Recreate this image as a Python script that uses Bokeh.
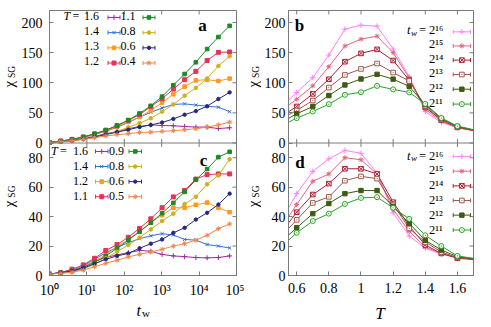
import math
from bokeh.plotting import figure
from bokeh.models import Range1d, FixedTicker, CustomJSTickFormatter, Label, Span
from bokeh.layouts import row, column
from bokeh.embed import file_html
from bokeh.resources import INLINE

# ---------------- data ----------------
tw = [1, 2, 4, 8, 16, 32, 64, 128, 256, 512, 1024, 2048, 4096, 8192, 16384, 32768, 65536]

a_labels = ["1.6", "1.4", "1.3", "1.2", "1.1", "0.8", "0.6", "0.4"]
a_T16 = [1, 2.7, 4.5, 7, 11, 15.4, 19, 23.7, 27.5, 30, 29, 28.6, 27.5, 26.4, 26.4, 24, 25.3]
a_T14 = [1, 3, 5.5, 9, 14, 19.5, 26, 34, 43, 51, 58, 64, 65, 63, 61, 59.5, 52]
a_T13 = [1, 3, 5.8, 9.5, 14.5, 20, 27, 35, 43, 54, 67, 81, 93.6, 104, 105, 103, 107]
a_T12 = [1, 3.2, 6, 10, 15, 21, 28.5, 37.5, 47, 60.5, 73.5, 89.5, 105, 119, 137, 150.5, 151]
a_T11 = [1.1, 3.3, 6, 10, 15.4, 21.5, 29, 38, 49, 61.7, 77, 96, 114.5, 134, 156, 176, 194.5]
a_T08 = [1, 2.5, 4, 6.5, 10, 14, 19, 26, 33, 41, 52, 64, 78.5, 91.5, 107, 128, 144]
a_T06 = [1, 2.5, 4, 6.5, 10, 14, 18, 22, 26.5, 30, 34, 40, 47, 53, 61, 73, 84]
a_T04 = [1, 2.2, 3.8, 6, 8.8, 11.6, 13.8, 15.4, 17.6, 18, 19.3, 20.4, 22, 23.7, 26.4, 30, 34.7]

c_labels = ["1.6", "1.4", "1.2", "1.1", "0.9", "0.8", "0.6", "0.5"]
c_T16 = [1, 1.8, 3.3, 6, 9.5, 12.2, 14, 15.5, 17, 16.5, 14.3, 13.3, 12.8, 12.2, 12, 12.2, 13.3]
c_T14 = [1, 2, 3.5, 6.5, 11, 15.5, 19, 22.3, 25, 27, 28.4, 27.5, 24.5, 24, 21, 20, 18.7]
c_T12 = [1, 1.8, 3, 5.9, 9.5, 14.4, 19.4, 24.5, 30, 36, 41, 46, 46, 48, 49.5, 46, 43]
c_T11 = [1, 2, 4.3, 7.2, 11.7, 17, 21, 26, 32, 38.5, 46, 53.4, 57.7, 65.5, 68.5, 69, 69]
c_T09 = [1, 1.8, 3.2, 5.6, 8.8, 13.3, 18.5, 24, 29.7, 35.8, 42.3, 49.3, 56.8, 65, 72.3, 80.4, 84]
c_T08 = [1, 1.5, 2.5, 4.3, 7.7, 11.7, 16.2, 20.7, 25.7, 31.3, 37, 42, 48.5, 53.5, 62, 68, 79]
c_T06 = [1, 1.8, 3, 5, 8, 11, 13.3, 15, 18.5, 21.6, 24.5, 29, 32.4, 38, 42.6, 48.2, 55.6]
c_T05 = [1, 1.5, 2.3, 3.6, 5.9, 8.3, 10.4, 12.6, 14.4, 16, 17.8, 20, 21.6, 24, 27.3, 31.8, 35]

T = [0.5, 0.6, 0.7, 0.8, 0.9, 1.0, 1.1, 1.2, 1.3, 1.4, 1.5, 1.6, 1.8]
tw_labels = ["2¹⁶", "2¹⁵", "2¹⁴", "2¹³", "2¹²", "2¹¹"]
b_tw16 = [59.5, 83.7, 108.5, 146, 189, 195.6, 194, 156, 110, 52, 34, 25, 15.5]
b_tw15 = [53.3, 72.7, 94.8, 126.7, 161, 172.5, 177.4, 150, 108, 56, 36, 25.5, 15.5]
b_tw14 = [43.4, 60.6, 81.5, 105.8, 135, 148.8, 155.4, 137, 104.5, 59, 38, 26, 16]
b_tw13 = [40, 54, 70.5, 92, 113, 123, 132, 117, 103, 61, 39, 26.5, 16]
b_tw12 = [33.5, 48.5, 60.6, 78.8, 96.4, 106.3, 114, 106, 94, 63.5, 40.5, 27.5, 16]
b_tw11 = [28, 41.3, 52.3, 64.5, 80, 84.3, 94.8, 89, 84, 65, 41.5, 28, 16]

d_tw16 = [36.4, 55.6, 70.7, 79.3, 85, 83, 69.6, 42.6, 26.8, 18.5, 14.4, 12.2, 10]
d_tw15 = [31.8, 48.2, 64, 69, 80, 78.6, 69, 44.8, 30, 19.4, 14.9, 12.2, 10]
d_tw14 = [28.6, 43, 55, 62.4, 72.5, 72.5, 69, 49.8, 33.6, 20.7, 15, 11.7, 10]
d_tw13 = [26.2, 37.8, 49.3, 53.4, 64.4, 67.3, 65.8, 48.2, 32, 22.7, 16, 12.2, 10]
d_tw12 = [22.6, 32.4, 42, 48.9, 55.6, 57.7, 57.7, 47, 35.4, 23.9, 17.3, 12.8, 10]
d_tw11 = [19, 29, 37, 42, 48.6, 52.7, 53.2, 46, 38.5, 27.3, 20, 13.3, 10]

a_ticks = [0, 50, 100, 150, 200]
c_ticks = [0, 20, 40, 60, 80]
x_log_ticks = [1, 10, 100, 1000, 10000, 100000]
T_ticks = [0.6, 0.8, 1.0, 1.2, 1.4, 1.6]

# ---------------- style / geometry ----------------
SERIF = "Liberation Serif"
FRAME = "#7a7a7a"
A_TOP, C_TOP = 220, 90
slot_colors = ["#a0289f", "#2f72d6", "#ff9a1c", "#e6325a", "#1b8a27", "#cdb01e", "#27277f", "#f0874b"]
slot_markers = ["cross", "x", "square", "square", "square", "circle", "circle", "asterisk"]
slot_sizes = [5, 4.5, 3.6, 4, 3.6, 3.6, 3.4, 5]
tw_colors = ["#ff7fff", "#e0687f", "#ac1f35", "#a0564c", "#3d5c12", "#27a327"]
tw_markers = ["cross", "asterisk", "square_x", "square_dot", "square", "circle_dot"]
tw_fill = [True, True, False, False, True, False]
tw_sizes = [5.5, 5, 4.6, 4.6, 4.4, 5]

FL_L, FL_R, FT, FB = 49, 286, 10, 277
FW, FH = 187, 267
YL1_W, YL2_W = 18, 17
LEFT_W = (FL_L - YL1_W) + FW + 8          # ends at x = 244
RIGHT_X0 = YL1_W + LEFT_W + YL2_W          # 261
RIGHT_W = (FL_R - RIGHT_X0) + FW + 10
MAIN_H = FT + FH + 23                      # 300
XLAB_H = 26


def base_fig(x_type, x_range, bl, br, standoff):
    p = figure(width=bl + FW + br, height=MAIN_H, min_border_left=bl, min_border_right=br,
               min_border_top=FT, min_border_bottom=MAIN_H - FT - FH, title=None,
               x_axis_type=x_type, x_range=x_range, y_range=Range1d(0, 2 * C_TOP),
               output_backend="svg", toolbar_location=None)
    p.extra_y_ranges = {"top": Range1d(-A_TOP, A_TOP)}
    p.grid.visible = False
    p.outline_line_color = FRAME
    p.outline_line_width = 1
    for ax in (p.xaxis[0], p.yaxis[0]):
        ax.axis_line_color = FRAME
        ax.major_tick_line_color = FRAME
        ax.major_tick_in = 4
        ax.major_tick_out = 0
        ax.minor_tick_line_color = None
        ax.major_label_text_font = SERIF
        ax.major_label_text_font_size = "14px"
        ax.major_label_text_color = "black"
    p.xaxis.major_label_standoff = 7
    p.yaxis.major_label_standoff = standoff
    ypos = c_ticks + [C_TOP + v * C_TOP / A_TOP for v in a_ticks]
    p.yaxis.ticker = FixedTicker(ticks=ypos)
    p.yaxis.formatter = CustomJSTickFormatter(code="""
        if (tick > 89.999) { return String(Math.round((tick - 90) * 220 / 90)); }
        return String(Math.round(tick));
    """)
    p.add_layout(Span(location=C_TOP, dimension="width", line_color=FRAME, line_width=1))
    return p, ypos


def lab(p, fl, sx, sy, text, size, align="left", baseline="middle", style="normal", angle=0.0):
    p.add_layout(Label(x=sx - fl, y=FB - sy, x_units="screen", y_units="screen", text=text,
                       text_font=SERIF, text_font_size=f"{size}px", text_align=align,
                       text_baseline=baseline, text_font_style=style, angle=angle,
                       text_color="black"))


def sy2y(sy):
    return 2 * C_TOP * (FB - sy) / FH


def sample(p, xconv, x1, x2, sy, color, marker, size, fill=True):
    y = sy2y(sy)
    xa, xb, xm = xconv(x1), xconv(x2), xconv((x1 + x2) / 2)
    p.segment(x0=[xa], y0=[y], x1=[xb], y1=[y], line_color=color, line_width=1)
    p.scatter(x=[xa, xb], y=[y, y], marker="dash", angle=math.pi / 2, size=4, line_color=color)
    p.scatter(x=[xm], y=[y], marker=marker, size=size, line_color=color,
              fill_color=color if fill else "white")


def label_fig(w, h):
    f = figure(width=w, height=h, x_range=Range1d(0, w), y_range=Range1d(0, h), min_border=0,
               title=None, toolbar_location=None, output_backend="svg",
               x_axis_location=None, y_axis_location=None)
    f.outline_line_color = None
    f.grid.visible = False
    return f


def flab(f, h, x0, sx, sy, text, size, align="left", baseline="middle", style="normal", angle=0.0):
    f.add_layout(Label(x=sx - x0, y=h - sy, text=text, text_font=SERIF,
                       text_font_size=f"{size}px", text_align=align, text_baseline=baseline,
                       text_font_style=style, angle=angle, text_color="black"))


# ---------------- left figure (a, c) ----------------
left, ypos = base_fig("log", Range1d(1, 1e5), FL_L - YL1_W, 8, 7)
left.xaxis.ticker = FixedTicker(ticks=x_log_ticks)
left.xaxis.formatter = CustomJSTickFormatter(code="""
    const sup = ['\u2070','\u00b9','\u00b2','\u00b3','\u2074','\u2075','\u2076','\u2077','\u2078','\u2079'];
    return '10' + sup[Math.round(Math.log10(tick))];
""")

a_series = [a_T16, a_T14, a_T13, a_T12, a_T11, a_T08, a_T06, a_T04]
c_series = [c_T16, c_T14, c_T12, c_T11, c_T09, c_T08, c_T06, c_T05]
for i, ys in enumerate(a_series):
    col = slot_colors[i]
    left.line(tw, ys, y_range_name="top", line_color=col, line_width=1)
    left.scatter(tw, ys, y_range_name="top", marker=slot_markers[i], size=slot_sizes[i],
                 line_color=col, fill_color=col)
for i, ys in enumerate(c_series):
    col = slot_colors[i]
    left.line(tw, ys, line_color=col, line_width=1)
    left.scatter(tw, ys, marker=slot_markers[i], size=slot_sizes[i], line_color=col, fill_color=col)

left.scatter(x=[x_log_ticks[-1]] * len(ypos), y=ypos, marker="dash", size=8, line_color=FRAME)
left.scatter(x=x_log_ticks, y=[C_TOP] * len(x_log_ticks), marker="dash", angle=math.pi / 2, size=8, line_color=FRAME)
left.scatter(x=x_log_ticks, y=[2 * C_TOP] * len(x_log_ticks), marker="dash", angle=math.pi / 2, size=8, line_color=FRAME)


def lx(sx):
    return 10 ** (5 * (sx - FL_L) / FW)


rows_a = [17, 32.3, 47.6, 62.9]
for r in range(4):
    lab(left, FL_L, 98.5, rows_a[r], a_labels[r], 12, align="right")
    sample(left, lx, 107.5, 119.5, rows_a[r], slot_colors[r], slot_markers[r], slot_sizes[r])
    lab(left, FL_L, 135, rows_a[r], a_labels[r + 4], 12, align="right")
    sample(left, lx, 142.5, 154.5, rows_a[r], slot_colors[r + 4], slot_markers[r + 4], slot_sizes[r + 4])
lab(left, FL_L, 63, rows_a[0], "T", 12, style="italic")
lab(left, FL_L, 72, rows_a[0], "=", 12)
rows_c = [152, 167.2, 182.4, 197.6]
for r in range(4):
    lab(left, FL_L, 87.5, rows_c[r], c_labels[r], 12, align="right")
    sample(left, lx, 95, 107.5, rows_c[r], slot_colors[r], slot_markers[r], slot_sizes[r])
    lab(left, FL_L, 123.5, rows_c[r], c_labels[r + 4], 12, align="right")
    sample(left, lx, 128.5, 141, rows_c[r], slot_colors[r + 4], slot_markers[r + 4], slot_sizes[r + 4])
lab(left, FL_L, 50.5, rows_c[0], "T", 12, style="italic")
lab(left, FL_L, 59.5, rows_c[0], "=", 12)

lab(left, FL_L, 202, 27, "a", 17, align="center", baseline="alphabetic", style="bold")
lab(left, FL_L, 203, 162, "c", 17, align="center", baseline="alphabetic", style="bold")

# ---------------- right figure (b, d) ----------------
T0, T1 = 0.549, 1.70
right, ypos_r = base_fig("linear", Range1d(T0, T1), FL_R - RIGHT_X0, 10, 3)
right.xaxis.ticker = FixedTicker(ticks=T_ticks)
right.xaxis.formatter = CustomJSTickFormatter(code="return tick.toFixed(1).replace(/\\.0$/, '');")

b_series = [b_tw16, b_tw15, b_tw14, b_tw13, b_tw12, b_tw11]
d_series = [d_tw16, d_tw15, d_tw14, d_tw13, d_tw12, d_tw11]
for i, ys in enumerate(b_series):
    col = tw_colors[i]
    right.line(T, ys, y_range_name="top", line_color=col, line_width=1)
    right.scatter(T, ys, y_range_name="top", marker=tw_markers[i], size=tw_sizes[i], line_color=col,
                  fill_color=col if tw_fill[i] else "white")
for i, ys in enumerate(d_series):
    col = tw_colors[i]
    right.line(T, ys, line_color=col, line_width=1)
    right.scatter(T, ys, marker=tw_markers[i], size=tw_sizes[i], line_color=col,
                  fill_color=col if tw_fill[i] else "white")

right.scatter(x=[T1] * len(ypos_r), y=ypos_r, marker="dash", size=8, line_color=FRAME)
right.scatter(x=T_ticks, y=[C_TOP] * len(T_ticks), marker="dash", angle=math.pi / 2, size=8, line_color=FRAME)
right.scatter(x=T_ticks, y=[2 * C_TOP] * len(T_ticks), marker="dash", angle=math.pi / 2, size=8, line_color=FRAME)


def rx(sx):
    return T0 + (T1 - T0) * (sx - FL_R) / FW


rows_b = [31.5, 45.7, 60, 74.5, 89.3, 104.3]
rows_d = [157, 171.9, 186.7, 201.4, 216.2, 231.2]
for rows in (rows_b, rows_d):
    for r in range(6):
        lab(right, FL_R, 426.5, rows[r], tw_labels[r], 12.5)
        sample(right, rx, 452.5, 470, rows[r], tw_colors[r], tw_markers[r], tw_sizes[r], tw_fill[r])
    lab(right, FL_R, 404.5, rows[0], "t", 12.5, style="italic")
    lab(right, FL_R, 408.5, rows[0] + 2.5, "w", 9, style="italic")
    lab(right, FL_R, 416.5, rows[0], "=", 12.5)

lab(right, FL_R, 297, 26.7, "b", 17, align="center", baseline="alphabetic", style="bold")
lab(right, FL_R, 297.5, 163.5, "d", 17, align="center", baseline="alphabetic", style="bold")

# ---------------- axis-title strips ----------------
yl1 = label_fig(YL1_W, MAIN_H)
flab(yl1, MAIN_H, 0, 8.5, 83.5, "χ", 15, align="center", angle=math.pi / 2)
flab(yl1, MAIN_H, 0, 11, 69.5, "SG", 9.5, align="center", angle=math.pi / 2)
flab(yl1, MAIN_H, 0, 8.5, 219, "χ", 15, align="center", angle=math.pi / 2)
flab(yl1, MAIN_H, 0, 11, 205, "SG", 9.5, align="center", angle=math.pi / 2)

x_yl2 = YL1_W + LEFT_W
yl2 = label_fig(YL2_W, MAIN_H)
flab(yl2, MAIN_H, x_yl2, 252.5, 83.5, "χ", 15, align="center", angle=math.pi / 2)
flab(yl2, MAIN_H, x_yl2, 255, 69.5, "SG", 9.5, align="center", angle=math.pi / 2)
flab(yl2, MAIN_H, x_yl2, 252.5, 219, "χ", 15, align="center", angle=math.pi / 2)
flab(yl2, MAIN_H, x_yl2, 255, 205, "SG", 9.5, align="center", angle=math.pi / 2)

total_w = RIGHT_X0 + RIGHT_W
xlab = label_fig(total_w, XLAB_H)
flab(xlab, XLAB_H + MAIN_H, 0, 136, 310, "t", 16, baseline="alphabetic", style="italic")
flab(xlab, XLAB_H + MAIN_H, 0, 141.5, 312.5, "w", 11, baseline="alphabetic")
flab(xlab, XLAB_H + MAIN_H, 0, 379.5, 313, "T", 17, align="center", baseline="alphabetic", style="italic")

layout = column(row(yl1, left, yl2, right), xlab)
with open("out.html", "w", encoding="utf-8") as f:
    f.write(file_html(layout, INLINE))
